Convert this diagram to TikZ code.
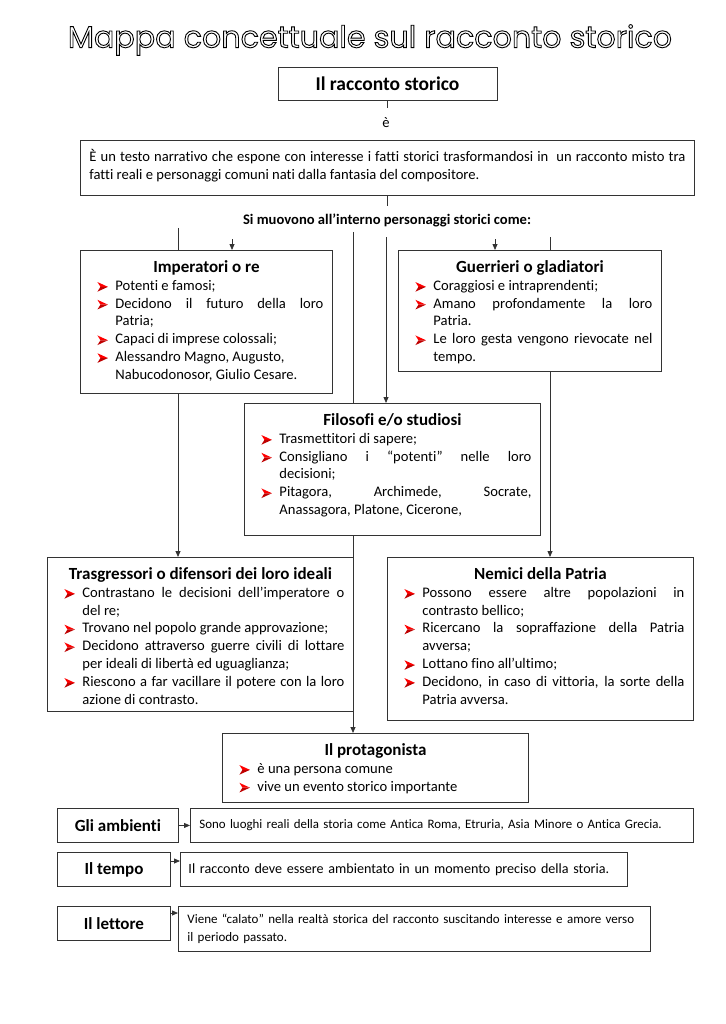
\documentclass[tikz,border=0pt]{standalone}
\usepackage{fontspec}
\setmainfont{Carlito}[Ligatures={NoCommon}]
\newfontfamily\titlefont{Poppins}
\usetikzlibrary{arrows.meta}
\pgfdeclarelayer{bg}
\pgfsetlayers{bg,main}
\newcommand\bul{\tikz[baseline={(0,-3.4pt)},x=1pt,y=1pt]{%
  \fill[red] (0,4.8) -- (10.5,0) -- (3,0) -- cycle;
  \fill[red!75!black] (0,-4.8) -- (10.5,0) -- (3,0) -- cycle;}}
\newcommand\itm[1]{\par\noindent\hangindent=18pt\hangafter=1\makebox[18pt][l]{\bul}#1}
\newcommand\lbox[4]{%
  \hspace*{17pt}\begin{minipage}[c][#2][t]{#1}%
  \fontsize{14.6}{17.8}\selectfont\parindent=0pt\tolerance=10000\hyphenpenalty=10000\exhyphenpenalty=10000%
  \noindent\makebox[\linewidth][c]{\hspace*{-8pt}\rule{0pt}{22pt}\fontsize{17}{20}\selectfont\bfseries #3}\par
  #4\par\end{minipage}\hspace*{9pt}}
\begin{document}
\begin{tikzpicture}[x=1pt,y=-1pt,
  box/.style={draw=black!80,line width=0.9pt,fill=white,inner sep=0pt,anchor=north west},
  conn/.style={line width=0.8pt,draw=black!80},
  arr/.style={conn,-{Triangle[length=6pt,width=5pt]}},
  lab/.style={font=\fontsize{17}{20}\selectfont\bfseries},
  small/.style={font=\fontsize{14.1}{18}\selectfont}]
\useasboundingbox (0,0) rectangle (725,1024);

% title
\node (title) at (370,40) {\titlefont\fontsize{30.2}{34}\selectfont\special{pdf:literal direct 1 Tr 0.9 w}Mappa concettuale sul racconto storico\special{pdf:literal direct 0 Tr}};

\node[draw=black!80,line width=0.9pt,fill=white,minimum width=219pt,minimum height=33pt,inner sep=0pt,font=\fontsize{19.5}{22}\selectfont\bfseries] (top) at (387.5,83.5) {Il racconto storico};
\node[font=\fontsize{14.6}{17.8}\selectfont] (e) at (386,123) {è};
\coordinate (c1) at (387.5,108);

\node[box] (txt) at (80,140) {\hspace*{9pt}\begin{minipage}[c][55pt][t]{596pt}\fontsize{14.6}{17.8}\selectfont\rule{0pt}{21pt}È un testo narrativo che espone con interesse i fatti storici trasformandosi in \ un racconto misto tra\linebreak fatti reali e personaggi comuni nati dalla fantasia del compositore.\end{minipage}\hspace*{9pt}};

\node[font=\fontsize{14.6}{17}\selectfont\bfseries] (si) at (387,220) {Si muovono all’interno personaggi storici come:};

\node[box] (imp) at (80,250) {\lbox{226pt}{143pt}{Imperatori o re}{%
  \itm{Potenti e famosi;}
  \itm{Decidono il futuro della loro\linebreak Patria;}
  \itm{Capaci di imprese colossali;}
  \itm{Alessandro Magno, Augusto,\newline Nabucodonosor, Giulio Cesare.}}};

\node[box] (gue) at (398,250) {\lbox{237pt}{121pt}{Guerrieri o gladiatori}{%
  \itm{Coraggiosi e intraprendenti;}
  \itm{Amano profondamente la loro\linebreak Patria.}
  \itm{Le loro gesta vengono rievocate nel\linebreak tempo.}}};

\node[box] (fil) at (244,403) {\lbox{270pt}{132pt}{Filosofi e/o studiosi}{%
  \itm{Trasmettitori di sapere;}
  \itm{Consigliano i “potenti” nelle loro\linebreak decisioni;}
  \itm{Pitagora, Archimede, Socrate,\linebreak Anassagora, Platone, Cicerone,}}};

\node[box] (tra) at (47,557) {\lbox{280pt}{154pt}{Trasgressori o difensori dei loro ideali}{%
  \itm{Contrastano le decisioni dell’imperatore o\linebreak del re;}
  \itm{Trovano nel popolo grande approvazione;}
  \itm{Decidono attraverso guerre civili di lottare\linebreak per ideali di libertà ed uguaglianza;}
  \itm{Riescono a far vacillare il potere con la loro\linebreak azione di contrasto.}}};

\node[box] (nem) at (387,557) {\lbox{280pt}{163pt}{Nemici della Patria}{%
  \itm{Possono essere altre popolazioni in\linebreak contrasto bellico;}
  \itm{Ricercano la sopraffazione della Patria\linebreak avversa;}
  \itm{Lottano fino all’ultimo;}
  \itm{Decidono, in caso di vittoria, la sorte della\linebreak Patria avversa.}}};

\node[box] (pro) at (222,733) {\lbox{280pt}{69pt}{Il protagonista}{%
  \itm{è una persona comune}
  \itm{vive un evento storico importante}}};

% bottom rows
\node[box,minimum width=121pt,minimum height=34pt,lab] (amb) at (57,808) {Gli ambienti};
\node[box,minimum height=34pt,text width=485pt,inner xsep=9pt,align=left,font=\fontsize{12.9}{15}\selectfont] (ambt) at (190,808) {Sono luoghi reali della storia come Antica Roma, Etruria, Asia Minore o Antica Grecia.};

\node[box,minimum width=113pt,minimum height=34pt,lab] (tem) at (57,852) {Il tempo};
\node[box,minimum height=34pt,text width=431pt,inner xsep=8pt,align=left,small] (temt) at (180,852) {Il racconto deve essere ambientato in un momento preciso della storia.};

\node[box,minimum width=113pt,minimum height=34pt,lab] (let) at (57,906) {Il lettore};
\node[box,minimum height=45pt,text width=454pt,inner xsep=9pt,align=left,font=\fontsize{13}{18}\selectfont] (lett) at (178,906) {Viene “calato” nella realtà storica del racconto suscitando interesse e amore verso\\il periodo passato.};

% connector start points
\coordinate (s1) at (178,228);
\coordinate (s2) at (232,239);
\coordinate (s3) at (353,232);
\coordinate (s4) at (386,237);
\coordinate (s5) at (495,239);
\coordinate (s6) at (550,237);

\begin{pgfonlayer}{bg}
\draw[conn] (top.south) -- (c1);
\draw[conn] (txt.south) -- ++(0,10);
\draw[arr] (s1) -- (s1 |- tra.north);
\draw[arr] (s2) -- (s2 |- imp.north);
\draw[arr] (s3) -- (s3 |- pro.north);
\draw[arr] (s4) -- (s4 |- fil.north);
\draw[arr] (s5) -- (s5 |- gue.north);
\draw[arr] (s6) -- (s6 |- nem.north);
\draw[arr] (amb.east) -- (ambt.west);
\draw[arr] ([yshift=-9pt]tem.north east) -- ([yshift=-9pt]temt.north west);
\draw[arr] ([yshift=-7pt]let.north east) -- ([yshift=-7pt]lett.north west);
\end{pgfonlayer}
\end{tikzpicture}
\end{document}
